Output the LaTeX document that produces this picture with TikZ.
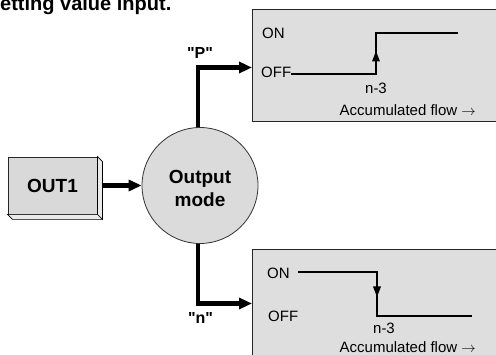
\documentclass[tikz,border=0pt]{standalone}
\usepackage{fontspec}
\setmainfont{Liberation Sans}
\usetikzlibrary{arrows.meta}
% straight double quote, placed as a glyph so no ligature mapping touches it
\newcommand{\sq}{\XeTeXglyph\XeTeXcharglyph"22\relax}
\begin{document}
\begin{tikzpicture}[x=1pt,y=-1pt,
  panel/.style={draw=black!85, line width=1pt, fill=black!13, anchor=north west, inner sep=0pt},
  conn/.style={line width=4.6pt, -{Triangle[length=13pt,width=11pt]}},
  trace/.style={line width=2.2pt},
  small/.style={font=\fontsize{15}{15}\selectfont, inner sep=0pt},
  bigbold/.style={font=\bfseries\fontsize{19}{23}\selectfont, inner sep=0pt},
  qlabel/.style={font=\bfseries\fontsize{16}{16}\selectfont, inner sep=0pt},
]
\useasboundingbox (0,0) rectangle (496,355);

% heading (runs off the top edge)
\node[font=\bfseries\fontsize{20}{20}\selectfont, anchor=base west, inner sep=0pt] (heading) at (0,10.5) {etting value input.};

% output panels
\node[panel, minimum width=244pt, minimum height=112pt] (toppanel) at (252,9.5) {};
\node[panel, minimum width=244pt, minimum height=107pt] (botpanel) at (252,249.5) {};

% upper panel: OFF -> ON step
\node[small, anchor=base west] (onA) at (262,38.5) {ON};
\node[small, anchor=base west] (offA) at (261,78) {OFF};
\draw[trace] (offA.east |- 0,74) -- (376,74) -- (376,33) -- (458,33);
\fill (376,51) -- (372,61.5) -- (380,61.5) -- cycle;
\node[small, anchor=base] (nA) at (376,94) {n-3};
\node[small, anchor=base east] (flowA) at (476,115.5) {Accumulated flow $\rightarrow$};

% lower panel: ON -> OFF step
\node[small, anchor=base west] (onB) at (267,278.5) {ON};
\node[small, anchor=base west] (offB) at (268,321.5) {OFF};
\draw[trace] (298,272) -- (377,272) -- (377,316) -- (472,316);
\fill (377,297) -- (373,286.5) -- (381,286.5) -- cycle;
\node[small, anchor=base] (nB) at (384,333.5) {n-3};
\node[small, anchor=base east] (flowB) at (476,352.5) {Accumulated flow $\rightarrow$};

% mode selector
\node[circle, draw=black!80, line width=0.8pt, fill=black!14, minimum size=116pt, inner sep=0pt] (mode) at (200,185.5) {};
\node[bigbold, align=center] (modetext) at (200,188.5) {Output\\mode};

% OUT1 block (front face)
\node[draw=black!85, line width=0.8pt, fill=black!15, minimum width=89pt, minimum height=57pt, bigbold] (out1) at (52.5,185.5) {OUT1};

% connectors
\draw[conn] (out1.east) -- (mode.west);
\draw[conn] ([xshift=-2pt]mode.north) |- ([yshift=-1.5pt]toppanel.west);
\draw[conn] ([xshift=-2pt]mode.south) |- (botpanel.west);

% OUT1 block depth faces
\draw[line width=0.7pt, fill=black!8] (out1.north east) -- ++(5,5) -- ([shift={(5,5)}]out1.south east) -- (out1.south east) -- cycle;
\draw[line width=0.7pt, fill=black!8] (out1.south west) -- (out1.south east) -- ([shift={(5,5)}]out1.south east) -- ([shift={(5,5)}]out1.south west) -- cycle;

% branch labels
\node[qlabel] (plabel) at (200,53) {\sq P\sq};
\node[qlabel] (nlabel) at (200.5,318) {\sq n\sq};
\end{tikzpicture}
\end{document}
